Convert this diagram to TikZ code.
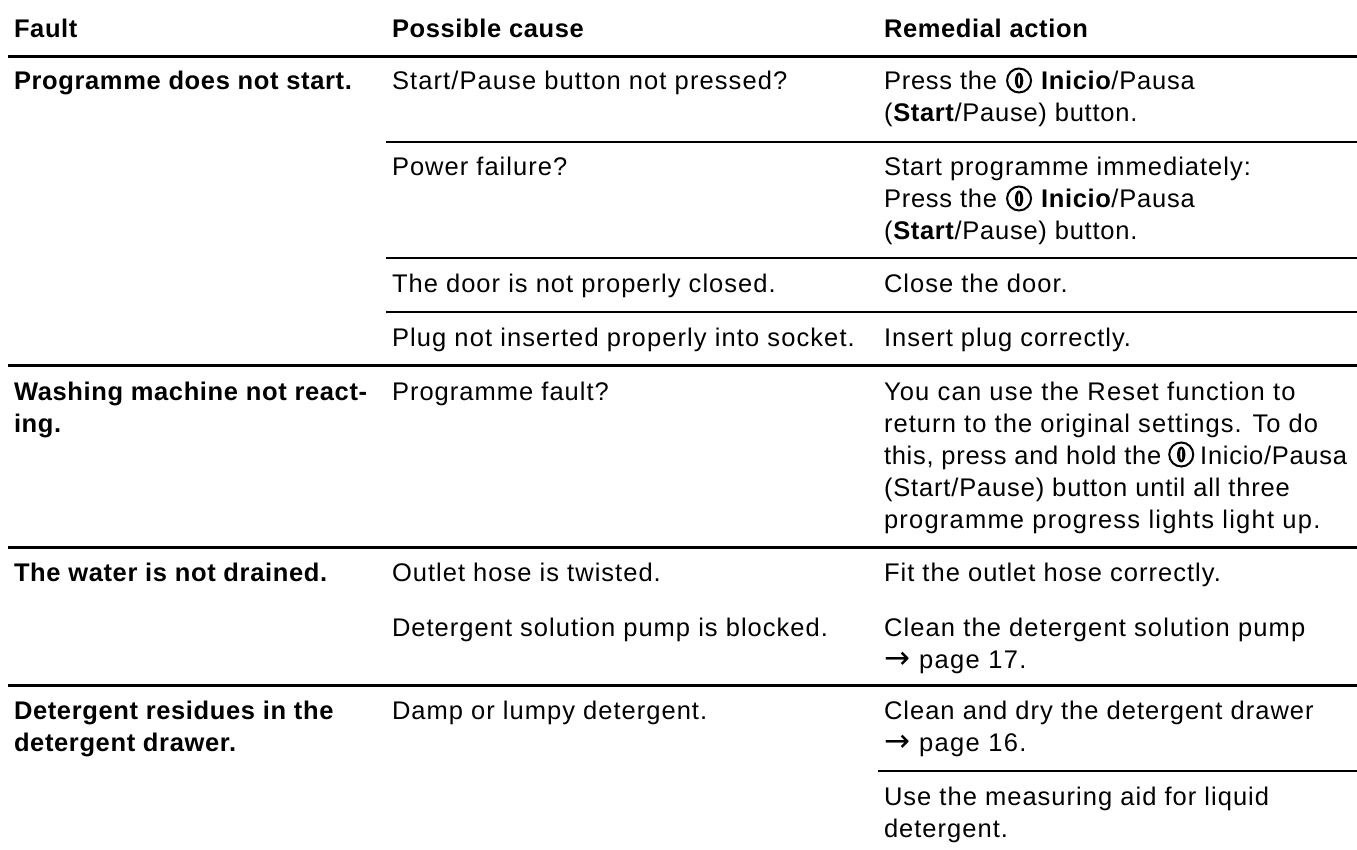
\documentclass[tikz,border=0pt]{standalone}
\usepackage{fontspec}
\setmainfont{Liberation Sans}[LetterSpace=4,BoldFeatures={LetterSpace=2.5}]
\newfontfamily\symfont{DejaVu Sans}
\newcommand{\pwr}{\tikz[baseline=-9.5pt,x=1pt,y=1pt]{\draw[line width=2pt] (0,0) circle (12);\fill[black] (0,0) ellipse (4.2 and 8);\fill[white] (0,0) ellipse (1 and 5.5);}}
\newcommand{\arr}{\makebox[35pt][l]{\fontsize{31}{32}\symfont →}}
\newcommand{\ls}[1]{\addfontfeature{LetterSpace=#1}}
\tikzset{
  txt/.style={anchor=base west,inner sep=0pt,outer sep=0pt,yshift=-1pt,font=\fontsize{25.5}{32}\selectfont,text=black},
  bld/.style={txt,font=\fontsize{25.5}{32}\selectfont\bfseries},
  fullrule/.style={line width=3pt,black},
  thinrule/.style={line width=2pt,black}}
\begin{document}
\begin{tikzpicture}[x=1pt,y=-1pt]
\useasboundingbox (0,0) rectangle (1357,850);
\foreach \n/\y in {a/57,e/365.5,f/547,g/685}{
  \coordinate (\n l) at (8,\y); \coordinate (\n r) at (1357,\y);
  \draw[fullrule] (\n l) -- (\n r);}
\foreach \n/\y in {b/142,c/258.5,d/312}{
  \coordinate (\n l) at (386,\y); \coordinate (\n r) at (1357,\y);
  \draw[thinrule] (\n l) -- (\n r);}
\coordinate (hl) at (878,771); \coordinate (hr) at (1357,771);
\draw[thinrule] (hl) -- (hr);
% header
\node[bld] (h1) at (14,37) {Fault};
\node[bld] (h2) at (392,37) {Possible cause};
\node[bld] (h3) at (884,37) {Remedial action};
% row 1
\node[bld] (f1) at (14,89) {Programme does not start.};
\node[txt] (c1) at (392,89) {\ls{4.3}Start/Pause button not pressed?};
\node[txt] (r1a) at (884,89) {\ls{3}Press the\hspace{9pt}\pwr\hspace{9pt}\textbf{Inicio}/Pausa};
\node[txt] (r1b) at (884,121) {\ls{3}(\textbf{Start}/Pause) button.};
\node[txt] (c2) at (392,175) {Power failure?};
\node[txt] (r2a) at (884,175) {Start programme immediately:};
\node[txt] (r2b) at (884,207) {\ls{3}Press the\hspace{9pt}\pwr\hspace{9pt}\textbf{Inicio}/Pausa};
\node[txt] (r2c) at (884,239) {\ls{3}(\textbf{Start}/Pause) button.};
\node[txt] (c3) at (392,292) {The door is not properly closed.};
\node[txt] (r3) at (884,292) {Close the door.};
\node[txt] (c4) at (392,345) {\ls{4.3}Plug not inserted properly into socket.};
\node[txt] (r4) at (884,345) {Insert plug correctly.};
% row 2
\node[bld] (f2a) at (14,399) {Washing machine not react-};
\node[bld] (f2b) at (14,431) {ing.};
\node[txt] (c5) at (392,399) {Programme fault?};
\node[txt] (r5a) at (884,399) {\ls{4.7}You can use the Reset function to};
\node[txt] (r5b) at (884,431) {\ls{4.2}return to the original settings. To do};
\node[txt] (r5c) at (884,463) {\ls{2.8}this, press and hold the\hspace{7pt}\pwr\hspace{6pt}Inicio/Pausa};
\node[txt] (r5d) at (884,495) {\ls{3.3}(Start/Pause) button until all three};
\node[txt] (r5e) at (884,527) {\ls{4.8}programme progress lights light up.};
% row 3
\node[bld] (f3) at (14,580) {The water is not drained.};
\node[txt] (c6) at (392,580) {Outlet hose is twisted.};
\node[txt] (r6) at (884,580) {Fit the outlet hose correctly.};
\node[txt] (c7) at (392,635) {Detergent solution pump is blocked.};
\node[txt] (r7a) at (884,635) {\ls{4.4}Clean the detergent solution pump};
\node[txt] (r7b) at (884,667) {\arr\ls{5.4}page 17.};
% row 4
\node[bld] (f4a) at (14,718) {Detergent residues in the};
\node[bld] (f4b) at (14,750) {detergent drawer.};
\node[txt] (c8) at (392,718) {Damp or lumpy detergent.};
\node[txt] (r8a) at (884,718) {Clean and dry the detergent drawer};
\node[txt] (r8b) at (884,750) {\arr\ls{5.4}page 16.};
\node[txt] (r9a) at (884,804) {Use the measuring aid for liquid};
\node[txt] (r9b) at (884,836) {detergent.};
\end{tikzpicture}
\end{document}
